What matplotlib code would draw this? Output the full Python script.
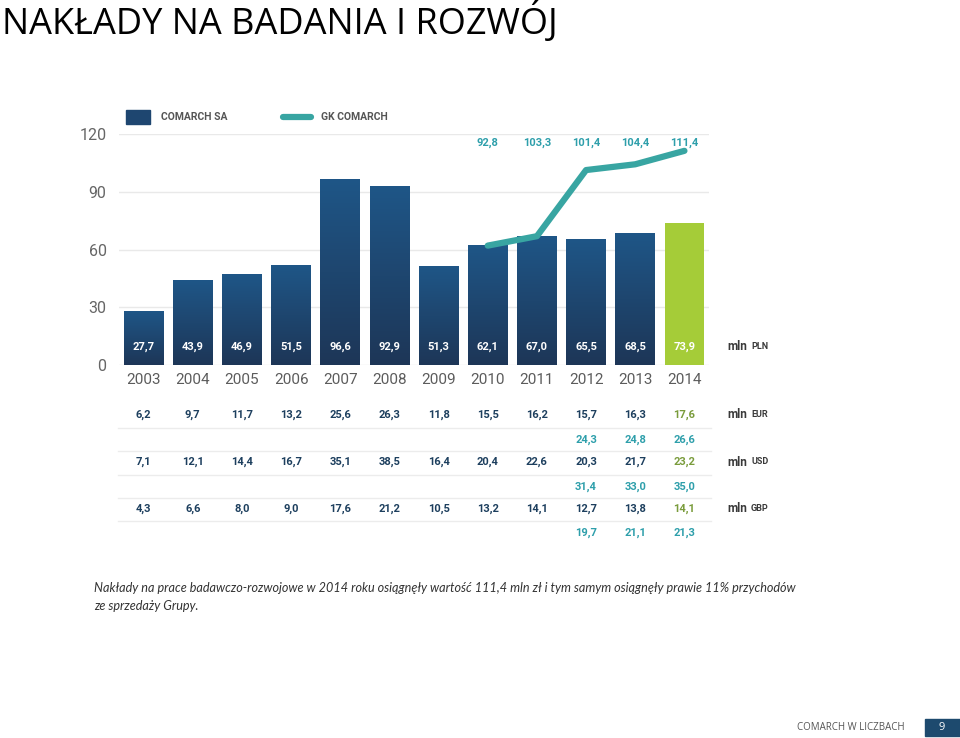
import matplotlib
matplotlib.use("Agg")
import matplotlib.pyplot as plt
import numpy as np
from matplotlib.transforms import blended_transform_factory
from matplotlib.colors import LinearSegmentedColormap
from matplotlib.patches import Rectangle
from matplotlib.lines import Line2D

# ---------------- data ----------------
years = ["2003", "2004", "2005", "2006", "2007", "2008", "2009",
         "2010", "2011", "2012", "2013", "2014"]
comarch_sa = [27.7, 43.9, 46.9, 51.5, 96.6, 92.9, 51.3, 62.1, 67.0, 65.5, 68.5, 73.9]
gk_years_idx = [7, 8, 9, 10, 11]
gk_line = [62.1, 67.0, 101.4, 104.4, 111.4]          # as drawn
gk_labels = ["92,8", "103,3", "101,4", "104,4", "111,4"]
eur = ["6,2", "9,7", "11,7", "13,2", "25,6", "26,3", "11,8", "15,5", "16,2", "15,7", "16,3", "17,6"]
eur_gk = ["24,3", "24,8", "26,6"]
usd = ["7,1", "12,1", "14,4", "16,7", "35,1", "38,5", "16,4", "20,4", "22,6", "20,3", "21,7", "23,2"]
usd_gk = ["31,4", "33,0", "35,0"]
gbp = ["4,3", "6,6", "8,0", "9,0", "17,6", "21,2", "10,5", "13,2", "14,1", "12,7", "13,8", "14,1"]
gbp_gk = ["19,7", "21,1", "21,3"]
yticks = [0, 30, 60, 90, 120]

NAVY_TXT = "#1d3f5e"
TEAL = "#38a5a2"
TEAL_TXT = "#2e9fab"
GREEN = "#a5cc38"
GREEN_TXT = "#7a9c3c"
GRAY = "#555555"

W, H = 960, 738
fig = plt.figure(figsize=(W / 100, H / 100), dpi=100)
fig.patch.set_facecolor("white")

def fy(px):
    return 1 - px / H

def fx(px):
    return px / W

ax = fig.add_axes([fx(119), fy(365), fx(709) - fx(119), fy(134.3) - fy(365)])
ax.set_xlim(-0.5, 11.5)
ax.set_ylim(0, 120)
for s in ax.spines.values():
    s.set_visible(False)
ax.set_yticks(yticks)
ax.set_yticklabels([str(v) for v in yticks])
ax.tick_params(axis="y", length=0, pad=9, labelsize=11.5, labelcolor="#666666")
ax.set_xticks(range(len(years)))
ax.set_xticklabels(years)
ax.tick_params(axis="x", length=0, pad=6, labelsize=11, labelcolor="#5c5c5c")
for lab in ax.get_xticklabels() + ax.get_yticklabels():
    lab.set_fontfamily("Roboto")
    lab.set_fontweight("normal")
ax.grid(axis="y", color="#e9e9e9", lw=1)
ax.set_axisbelow(True)

cmap = LinearSegmentedColormap.from_list("bar", ["#1d3657", "#1f5687"])
grad = np.linspace(0, 1, 256).reshape(-1, 1)
bw = 0.81
for i, v in enumerate(comarch_sa):
    if i == len(comarch_sa) - 1:
        ax.add_patch(Rectangle((i - bw / 2, 0), bw, v, color=GREEN, zorder=2, lw=0))
    else:
        ax.imshow(grad, extent=[i - bw / 2, i + bw / 2, 0, v], origin="lower",
                  cmap=cmap, aspect="auto", zorder=2)
    ax.text(i, 9.4, f"{v:.1f}".replace(".", ","), ha="center", va="center",
            color="white", fontsize=8, fontweight="bold", family="Roboto", zorder=4)
ax.set_xlim(-0.5, 11.5)
ax.set_ylim(0, 120)

ax.plot(gk_years_idx, gk_line, color=TEAL, lw=4.5, solid_capstyle="round",
        solid_joinstyle="round", zorder=3)
for i, lab in zip(gk_years_idx, gk_labels):
    ax.text(i, 115.8, lab, ha="center", va="center", color=TEAL_TXT,
            fontsize=8, fontweight="bold", family="Roboto")

# legend
fig.patches.append(Rectangle((fx(126), fy(124)), fx(24), fy(110) - fy(124),
                             transform=fig.transFigure, color="#1e4670"))
fig.text(fx(161), fy(117), "COMARCH SA", ha="left", va="center", color=GRAY,
         fontsize=7.5, fontweight="bold", family="Roboto")
fig.lines.append(Line2D([fx(283), fx(311)], [fy(117), fy(117)], transform=fig.transFigure,
                        color=TEAL, lw=4.5, solid_capstyle="round"))
fig.text(fx(321), fy(117), "GK COMARCH", ha="left", va="center", color=GRAY,
         fontsize=7.5, fontweight="bold", family="Roboto")

# units
def unit(ypx, cur):
    fig.text(fx(727), fy(ypx), "mln", ha="left", va="center", color="#3a3a3a",
             fontsize=8.5, fontweight="bold", family="Roboto")
    fig.text(fx(751), fy(ypx) + 0.001, cur, ha="left", va="center", color="#3a3a3a",
             fontsize=6.5, fontweight="bold", family="Roboto")

unit(347, "PLN")

# table
tr = blended_transform_factory(ax.transData, fig.transFigure)

def row(vals, ypx, start=0, color=NAVY_TXT, last_green=True):
    for k, v in enumerate(vals):
        i = start + k
        c = color
        if last_green and i == len(years) - 1:
            c = GREEN_TXT
        ax.text(i, fy(ypx), v, transform=tr, ha="center", va="center", color=c,
                fontsize=8, fontweight="bold", family="Roboto", clip_on=False)

rows = [(eur, 415, 0, NAVY_TXT, True), (eur_gk, 440, 9, TEAL_TXT, False),
        (usd, 462, 0, NAVY_TXT, True), (usd_gk, 487, 9, TEAL_TXT, False),
        (gbp, 509, 0, NAVY_TXT, True), (gbp_gk, 533, 9, TEAL_TXT, False)]
for vals, ypx, st, c, lg in rows:
    row(vals, ypx, st, c, lg)
for ypx in [428, 451, 474.5, 498, 521]:
    fig.lines.append(Line2D([fx(118), fx(711)], [fy(ypx), fy(ypx)], transform=fig.transFigure,
                            color="#ececec", lw=1))
unit(415, "EUR")
unit(462, "USD")
unit(509, "GBP")

# title
fig.text(fx(2), fy(22), "NAKŁADY NA BADANIA I ROZWÓJ", ha="left", va="center",
         fontsize=26, family="Open Sans", fontweight="normal", color="black")

# caption
fig.text(fx(94), fy(588), "Nakłady na prace badawczo-rozwojowe w 2014 roku osiągnęły wartość 111,4 mln zł i tym samym osiągnęły prawie 11% przychodów",
         ha="left", va="center", fontsize=9.1, family="Lato", style="italic",
         fontweight="normal", color="#333333")
fig.text(fx(94), fy(606), "ze sprzedaży Grupy.",
         ha="left", va="center", fontsize=9.1, family="Lato", style="italic",
         fontweight="normal", color="#333333")

# footer
fig.text(fx(797), fy(727), "COMARCH W LICZBACH", ha="left", va="center", fontsize=7,
         family="Open Sans", color="#555555")
fig.patches.append(Rectangle((fx(925), fy(736)), fx(35), fy(719) - fy(736),
                             transform=fig.transFigure, color="#1d4a6e"))
fig.text(fx(942), fy(727.5), "9", ha="center", va="center", fontsize=8,
         family="Open Sans", color="white")

fig.savefig("out.png", dpi=100, facecolor="white")
